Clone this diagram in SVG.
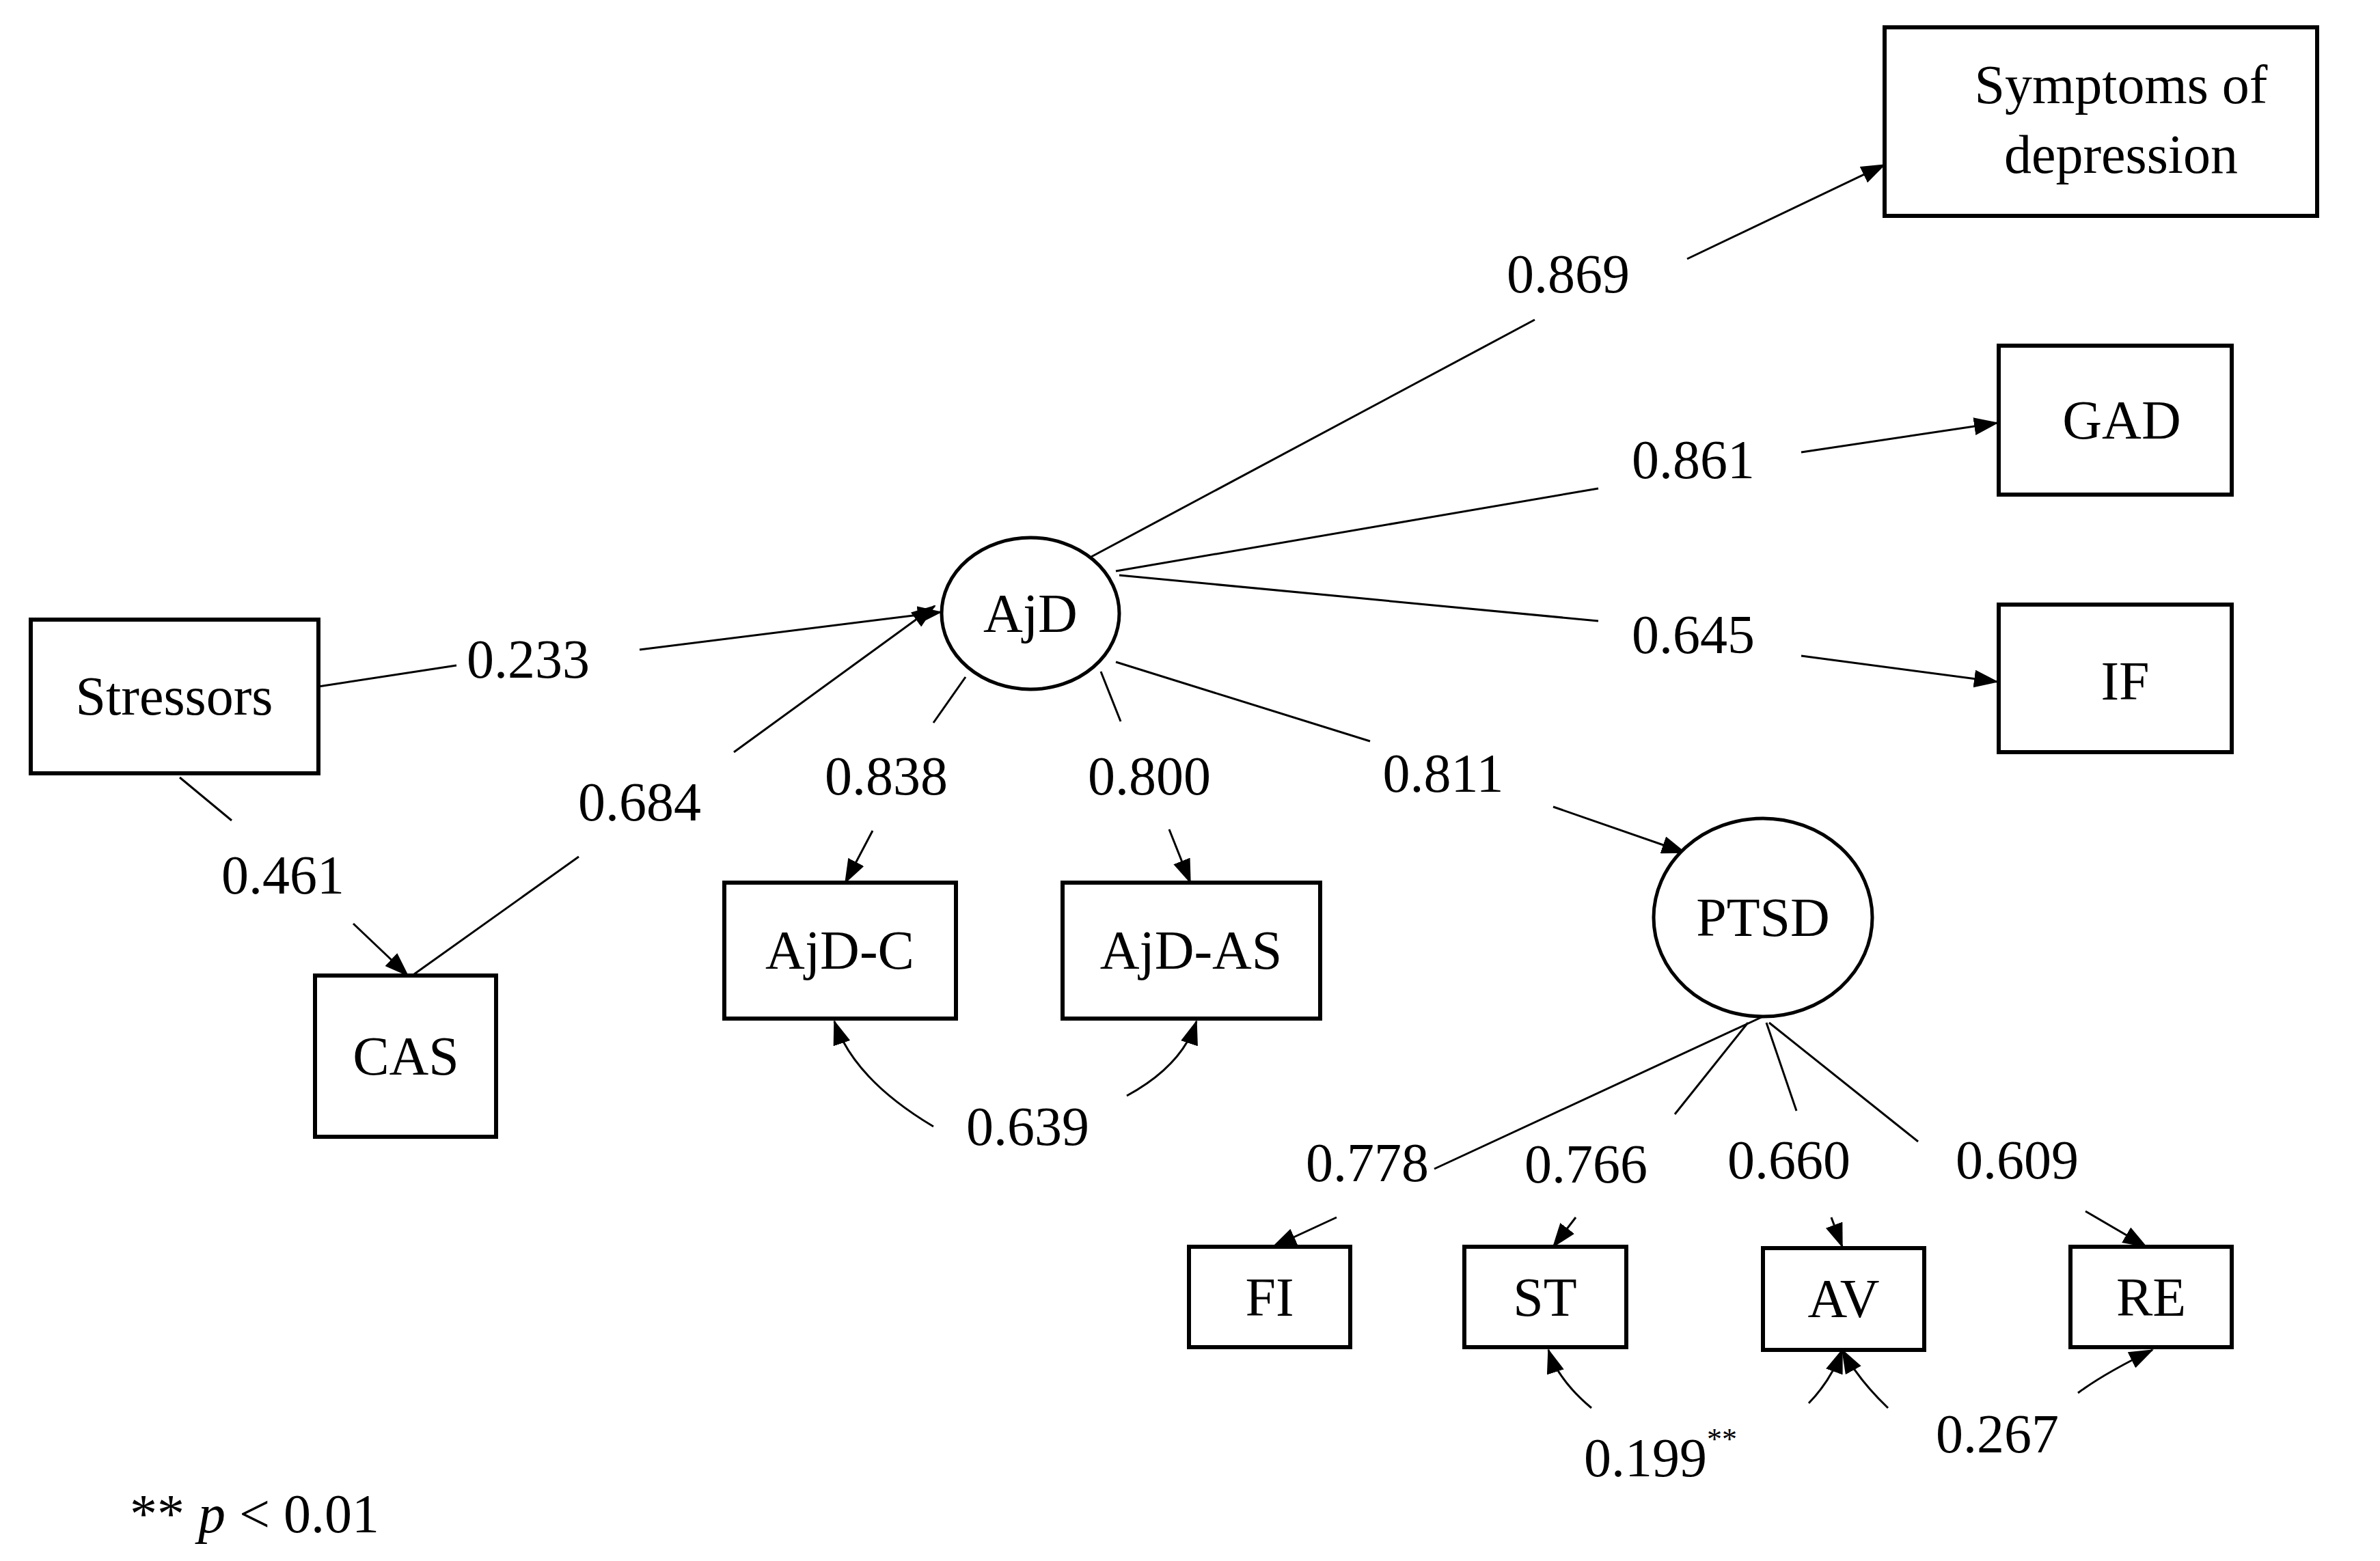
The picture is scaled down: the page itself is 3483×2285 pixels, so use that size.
<svg xmlns="http://www.w3.org/2000/svg" width="3483" height="2285" viewBox="0 0 3483 2285">
<style>
.box{fill:#fff;stroke:#000;stroke-width:6}
.lat{fill:#fff;stroke:#000;stroke-width:5}
.t{font-family:"Liberation Serif",serif;font-size:80px;text-anchor:middle;dominant-baseline:central;fill:#000}
.c line,.c path{stroke:#000;stroke-width:3;fill:none}
.a{marker-end:url(#ah)}
</style>
<defs>
<marker id="ah" markerUnits="userSpaceOnUse" markerWidth="36" markerHeight="26" refX="34" refY="13" orient="auto"><path d="M0,0 L36,13 L0,26 Z" fill="#000"/></marker>
</defs>
<rect width="3483" height="2285" fill="#fff"/>
<g class="c">
<line x1="466" y1="1005" x2="668" y2="974"/><line class="a" x1="936" y1="951" x2="1377" y2="896"/>
<line x1="263" y1="1138" x2="339" y2="1201"/><line class="a" x1="517" y1="1352" x2="597" y2="1428"/>
<line x1="606" y1="1426" x2="847" y2="1254"/><line class="a" x1="1074" y1="1101" x2="1368" y2="887"/>
<line x1="1597" y1="815" x2="2246" y2="468"/><line class="a" x1="2469" y1="379" x2="2758" y2="241"/>
<line x1="1633" y1="836" x2="2339" y2="715"/><line class="a" x1="2636" y1="662" x2="2923" y2="619"/>
<line x1="1638" y1="842" x2="2339" y2="909"/><line class="a" x1="2636" y1="960" x2="2923" y2="998"/>
<line x1="1633" y1="969" x2="2005" y2="1085"/><line class="a" x1="2273" y1="1181" x2="2466" y2="1248"/>
<line x1="1413" y1="991" x2="1366" y2="1058"/><line class="a" x1="1277" y1="1216" x2="1237" y2="1292"/>
<line x1="1611" y1="983" x2="1640" y2="1056"/><line class="a" x1="1711" y1="1214" x2="1742" y2="1292"/>
<path class="a" d="M1366,1649 Q1250,1580 1221,1495"/><path class="a" d="M1649,1604 Q1730,1560 1751,1495"/>
<line x1="2580" y1="1488" x2="2099" y2="1711"/><line class="a" x1="1956" y1="1782" x2="1863" y2="1825"/>
<line x1="2558" y1="1497" x2="2451" y2="1631"/><line class="a" x1="2306" y1="1782" x2="2273" y2="1825"/>
<line x1="2585" y1="1497" x2="2629" y2="1626"/><line class="a" x1="2680" y1="1782" x2="2696" y2="1825"/>
<line x1="2589" y1="1497" x2="2807" y2="1671"/><line class="a" x1="3052" y1="1773" x2="3141" y2="1825"/>
<path class="a" d="M2329,2061 Q2280,2020 2266,1976"/><path class="a" d="M2647,2054 Q2680,2020 2696,1976"/>
<path class="a" d="M2763,2061 Q2720,2020 2696,1976"/><path class="a" d="M3041,2039 Q3080,2010 3150,1976"/>
</g>
<g class="t">
<text x="773" y="965">0.233</text><text x="414" y="1281">0.461</text><text x="936" y="1174">0.684</text>
<text x="2295" y="401">0.869</text><text x="2478" y="673">0.861</text><text x="2478" y="929">0.645</text>
<text x="2112" y="1132">0.811</text><text x="1297" y="1136">0.838</text><text x="1682" y="1136">0.800</text>
<text x="1504" y="1649">0.639</text><text x="2001" y="1702">0.778</text><text x="2321" y="1704">0.766</text>
<text x="2618" y="1698">0.660</text><text x="2952" y="1698">0.609</text>
<text x="2430" y="2134">0.199<tspan font-size="44" dy="-28">**</tspan></text>
<text x="2923" y="2099">0.267</text>
<text x="190" y="2216" style="text-anchor:start">** <tspan font-style="italic">p</tspan> &lt; 0.01</text>
</g>
<g id="stressors"><rect class="box" x="45" y="907" width="421" height="225"/><text class="t" x="255" y="1019">Stressors</text></g>
<g id="cas"><rect class="box" x="461" y="1428" width="265" height="236"/><text class="t" x="594" y="1546">CAS</text></g>
<g id="ajd"><ellipse class="lat" cx="1508" cy="898" rx="130" ry="111"/><text class="t" x="1508" y="898">AjD</text></g>
<g id="ajdc"><rect class="box" x="1060" y="1292" width="339" height="199"/><text class="t" x="1229" y="1391">AjD-C</text></g>
<g id="ajdas"><rect class="box" x="1555" y="1292" width="377" height="199"/><text class="t" x="1743" y="1391">AjD-AS</text></g>
<g id="symptoms"><rect class="box" x="2758" y="40" width="633" height="276"/><text class="t" x="3104" y="124">Symptoms of</text><text class="t" x="3104" y="226">depression</text></g>
<g id="gad"><rect class="box" x="2925" y="506" width="341" height="218"/><text class="t" x="3105" y="615">GAD</text></g>
<g id="if"><rect class="box" x="2925" y="885" width="341" height="216"/><text class="t" x="3110" y="997">IF</text></g>
<g id="ptsd"><ellipse class="lat" cx="2580" cy="1343" rx="160" ry="145"/><text class="t" x="2580" y="1343">PTSD</text></g>
<g id="fi"><rect class="box" x="1740" y="1825" width="236" height="147"/><text class="t" x="1858" y="1899">FI</text></g>
<g id="st"><rect class="box" x="2143" y="1825" width="237" height="147"/><text class="t" x="2261" y="1899">ST</text></g>
<g id="av"><rect class="box" x="2580" y="1827" width="236" height="149"/><text class="t" x="2698" y="1901">AV</text></g>
<g id="re"><rect class="box" x="3030" y="1825" width="236" height="147"/><text class="t" x="3148" y="1899">RE</text></g>
</svg>
